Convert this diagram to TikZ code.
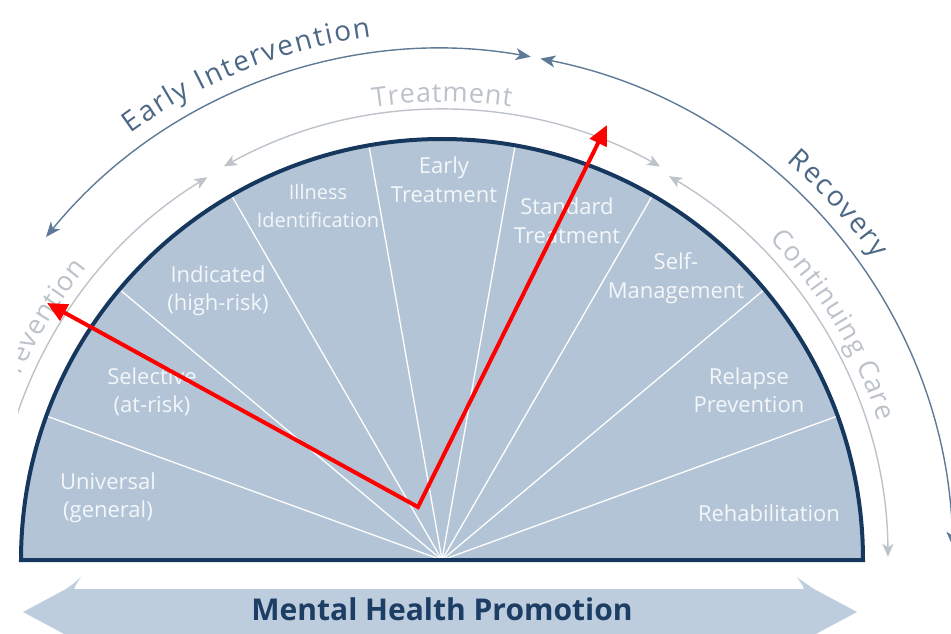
\documentclass[tikz,border=0pt]{standalone}
\usepackage{fontspec}
\setmainfont{Open Sans}
\usetikzlibrary{arrows.meta}
\definecolor{fanfill}{HTML}{B2C4D6}
\definecolor{fanedge}{HTML}{17385E}
\definecolor{outerc}{HTML}{5F7A97}
\definecolor{outert}{HTML}{4D6886}
\definecolor{innerc}{HTML}{BDC3CB}
\definecolor{innert}{HTML}{BCC2CA}
\definecolor{promofill}{HTML}{BDCDDD}
\definecolor{promotext}{HTML}{1C3D64}
\definecolor{labtext}{HTML}{F4F7FA}
\newbox\ArcBox
\newdimen\ArcTotalD
\newdimen\ArcPosD
\newdimen\ArcTmpD
\makeatletter
% text along an arc, read clockwise, letters upright outward
% #1 baseline radius, #2 middle angle, #3 letter spacing (pt), #4 font, #5 colour, #6 letters
\newcommand\ArcText[6]{%
  \global\ArcTotalD=0pt
  \foreach \ch in {#6}{%
    \pgfinterruptpicture\global\setbox\ArcBox=\hbox{#4\ch}\endpgfinterruptpicture
    \global\advance\ArcTotalD by \wd\ArcBox
    \global\advance\ArcTotalD by #3pt
  }%
  \global\advance\ArcTotalD by -#3pt
  \global\ArcPosD=-0.5\ArcTotalD
  \foreach \ch in {#6}{%
    \pgfinterruptpicture\global\setbox\ArcBox=\hbox{#4\ch}\endpgfinterruptpicture
    \ArcTmpD=\ArcPosD
    \advance\ArcTmpD by 0.5\wd\ArcBox
    \edef\ArcS{\strip@pt\ArcTmpD}%
    \pgfmathsetmacro\ArcAng{#2-deg(\ArcS/#1)}%
    \node[anchor=base,inner sep=0pt,outer sep=0pt,text=#5,rotate=\ArcAng-90]
      at ([shift={(\ArcAng:#1)}]C) {#4\ch};
    \global\advance\ArcPosD by \wd\ArcBox
    \global\advance\ArcPosD by #3pt
  }%
}
\makeatother
\tikzset{
  OA/.tip={Stealth[length=15pt,width=12pt,inset=4pt]},
  IA/.tip={Stealth[length=13pt,width=11pt,inset=3.5pt]},
  RA/.tip={Triangle[length=20pt,width=18pt]},
  spoke/.style={draw=white, line width=1.3pt},
  lab/.style={text=labtext, font=\fontsize{22}{28.5}\selectfont, align=center, inner sep=0pt},
  outerarc/.style={draw=outerc, line width=1.4pt},
  innerarc/.style={draw=innerc, line width=1.4pt},
  redarrow/.style={draw=red, line width=4pt, RA-RA},
}
\begin{document}
\begin{tikzpicture}[x=1pt,y=1pt]
\useasboundingbox (0,0) rectangle (951,633);
\clip (18,0) rectangle (951,633);
\coordinate (C) at (442,73);

% Mental health promotion arrow
\fill[promofill] (23,21) -- (66,44) .. controls (72,48) and (77,52) .. (81,56)
  .. controls (77,50) and (75,47) .. (74,44) -- (804,44)
  .. controls (803,47) and (801,50) .. (797,56)
  .. controls (802,52) and (808,48) .. (814,44) -- (857,21)
  -- (814,-2) .. controls (808,-6) and (802,-10) .. (797,-14)
  .. controls (801,-8) and (803,-5) .. (804,-2) -- (74,-2)
  .. controls (75,-5) and (77,-8) .. (81,-14)
  .. controls (77,-10) and (72,-6) .. (66,-2) -- cycle;
\node[anchor=base, text=promotext, font=\fontsize{30}{36}\selectfont\bfseries, inner sep=0pt]
  (promo) at (442,13) {Mental Health Promotion};

% fan
\fill[fanfill] ([shift={(0:421)}]C) arc (0:180:421) -- cycle;
\foreach \a in {20,40,...,160}
  \draw[spoke] (C) -- ([shift={(\a:420)}]C);
\draw[draw=fanedge, line width=4pt] ([shift={(0:421)}]C) arc (0:180:421) -- cycle;

% labels
\node[lab] (universal) at (108,135) {Universal\\(general)};
\node[lab] (selective) at (152,241) {Selective\\(at-risk)};
\node[lab] (indicated) at (218,342) {Indicated\\(high-risk)};
\node[lab, font=\fontsize{20}{28.5}\selectfont] (illness) at (318,427) {Illness\\Identification};
\node[lab] (earlytr) at (444,453) {Early\\Treatment};
\node[lab] (standard) at (567,412) {Standard\\Treatment};
\node[lab] (selfman) at (676,355) {Self-\\Management};
\node[lab] (relapse) at (749,243) {Relapse\\Prevention};
\node[lab] (rehab) at (769,120) {Rehabilitation};

% inner arcs
\draw[innerarc, -IA] ([shift={(178:449)}]C) arc (178:121.5:449);
\draw[innerarc, IA-IA] ([shift={(119:450)}]C) arc (119:61:450);
\draw[innerarc, IA-IA] ([shift={(59.4:446)}]C) arc (59.4:0.4:446);
% outer arcs
\draw[outerarc, OA-OA] ([shift={(140.8:511)}]C) arc (140.8:80:511);
\draw[outerarc, OA-OA] ([shift={(78.9:511)}]C) arc (78.9:1.5:511);

% arc texts
\ArcText{528}{111.9}{1.8}{\normalfont\fontsize{28}{34}\selectfont}{outert}{E,a,r,l,y,\ ,I,n,t,e,r,v,e,n,t,i,o,n}
\ArcText{527}{42}{1.8}{\normalfont\fontsize{28}{34}\selectfont}{outert}{R,e,c,o,v,e,r,y}
\ArcText{458}{90}{0.8}{\normalfont\fontsize{27}{32}\selectfont}{innert}{T,r,e,a,t,m,e,n,t}
\ArcText{458}{31}{0.8}{\normalfont\fontsize{27}{32}\selectfont}{innert}{C,o,n,t,i,n,u,i,n,g,\ ,C,a,r,e}
\ArcText{460}{149.5}{0.8}{\normalfont\fontsize{27}{32}\selectfont}{innert}{P,r,e,v,e,n,t,i,o,n}

% red annotation arrows
\coordinate (rv) at (418,126);
\coordinate (rl) at (47,330);
\coordinate (rr) at (607,508);
\draw[redarrow] (rl) -- (rv) -- (rr);
\end{tikzpicture}
\end{document}
